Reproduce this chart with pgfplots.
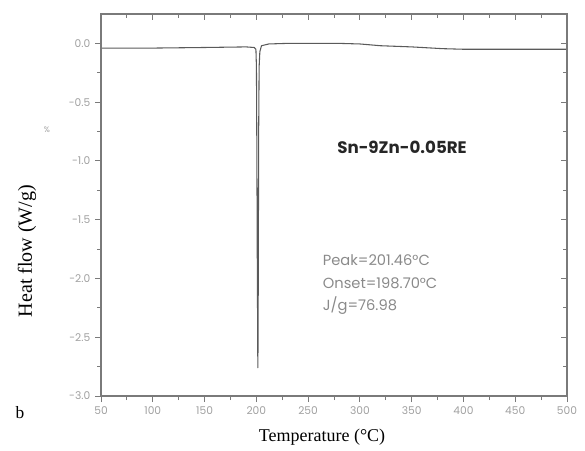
\documentclass[border=0pt]{standalone}
\usepackage{fontspec}
\setmainfont{Liberation Serif}
\newfontfamily\pop{Poppins}
\usepackage{pgfplots}
\pgfplotsset{compat=1.18}
\definecolor{axgray}{HTML}{7A7A7A}
\definecolor{curvegray}{HTML}{5A5A5A}
\definecolor{lblgray}{HTML}{A0A0A0}
\definecolor{txtgray}{HTML}{8A8A8A}
\begin{document}
\begin{tikzpicture}
\path[use as bounding box] (0,0) rectangle (438.75pt,337.5pt);
\pgfplotsset{
  common/.style={
    at={(75.75pt,40.5pt)}, anchor=south west,
    scale only axis, width=349.5pt, height=286.5pt,
    xmin=50, xmax=500, ymin=-3.0, ymax=0.25,
    xtick={50,100,...,500}, ytick={-3,-2.5,...,0},
    minor xtick={75,125,...,475}, minor ytick={-2.75,-2.25,...,-0.25},
    major tick length=4.5pt, minor tick length=3pt,
    axis line style={axgray, line width=0.8pt},
    every tick/.style={axgray, line width=0.7pt},
  }
}
\begin{axis}[common,
  tick align=outside, xtick pos=bottom, ytick pos=left,
  /pgf/number format/assume math mode=true,
  ticklabel style={font=\pop\fontsize{8}{9}\selectfont, text=lblgray},
  yticklabel style={/pgf/number format/fixed, /pgf/number format/fixed zerofill, /pgf/number format/precision=1},
  xticklabel style={/pgf/number format/fixed, /pgf/number format/precision=0},
]
\addplot[curvegray, line width=0.8pt, line join=round] coordinates {
(50,-0.04) (100,-0.04) (150,-0.035) (190,-0.03) (198,-0.035) (199.6,-0.05)
(200.1,-0.2) (200.5,-0.9) (200.9,-1.8) (201.3,-2.5) (201.46,-2.76) (201.7,-2.5)
(202.0,-1.6) (202.3,-0.7) (202.7,-0.2) (203.4,-0.07) (205,-0.02) (212,-0.005)
(230,0.0) (280,0.0) (300,-0.005) (320,-0.02) (350,-0.03) (380,-0.045)
(400,-0.05) (450,-0.05) (500,-0.05)
};
\node[font=\pop\bfseries\fontsize{12.5}{14}\selectfont, text=black!85] at (axis cs:340.7,-0.886) {Sn-9Zn-0.05RE};
\node[anchor=west, font=\pop\fontsize{11}{12}\selectfont, text=txtgray, inner sep=0pt] at (axis cs:264,-1.84) {Peak=201.46°C};
\node[anchor=west, font=\pop\fontsize{11}{12}\selectfont, text=txtgray, inner sep=0pt] at (axis cs:264,-2.04) {Onset=198.70°C};
\node[anchor=west, font=\pop\fontsize{11}{12}\selectfont, text=txtgray, inner sep=0pt] at (axis cs:264,-2.23) {J/g=76.98};
\end{axis}
\begin{axis}[common,
  tick align=inside, xtick pos=top, ytick pos=right,
  xticklabels={}, yticklabels={},
]
\end{axis}
\node[rotate=90, font=\fontsize{15}{17}\selectfont] at (20.25pt,149.25pt) {Heat flow (W/g)};
\node[font=\fontsize{13.5}{15}\selectfont] at (241.5pt,9.75pt) {Temperature (°C)};
\node[font=\fontsize{13}{15}\selectfont] at (15pt,27.75pt) {b};
\node[font=\pop\fontsize{6}{7}\selectfont, text=lblgray] at (35.25pt,240pt) {\%};
\end{tikzpicture}
\end{document}
